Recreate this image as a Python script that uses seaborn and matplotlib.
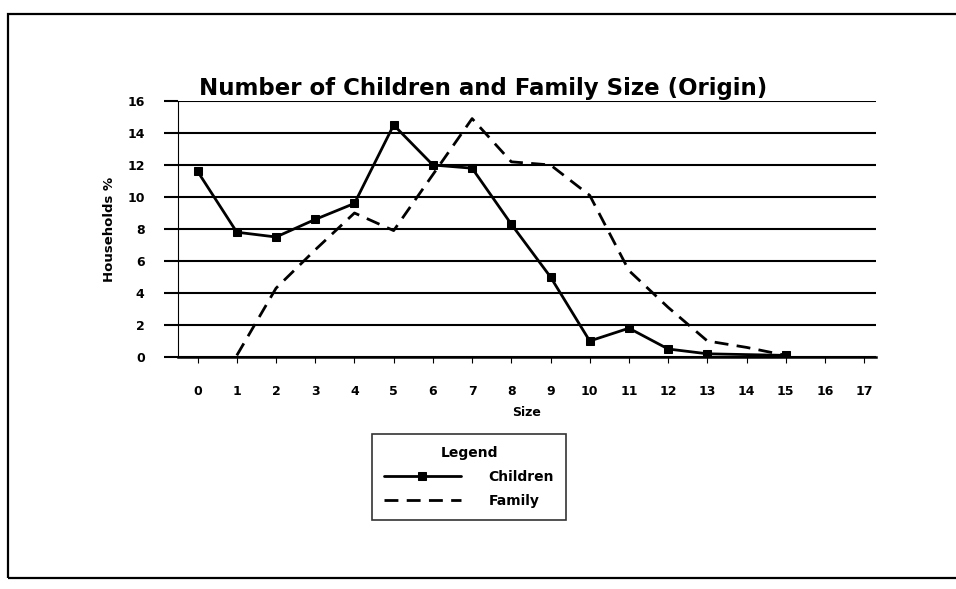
import matplotlib
matplotlib.use("Agg")
import matplotlib.pyplot as plt
import seaborn as sns
import pandas as pd
from matplotlib.patches import Rectangle

sns.set_theme(style="white")
plt.rcParams['font.family'] = ['DejaVu Sans']
plt.rcParams['text.color'] = 'black'
plt.rcParams['axes.labelcolor'] = 'black'
plt.rcParams['xtick.color'] = 'black'
plt.rcParams['ytick.color'] = 'black'

# Data
sizes = list(range(0, 18))
children_x = [0, 1, 2, 3, 4, 5, 6, 7, 8, 9, 10, 11, 12, 13, 15]
children_pct = [11.6, 7.8, 7.5, 8.6, 9.6, 14.5, 12.0, 11.8, 8.3, 5.0, 1.0, 1.8, 0.5, 0.2, 0.1]
family_x = [1, 2, 3, 4, 5, 6, 7, 8, 9, 10, 11, 12, 13, 14, 15]
family_pct = [0.1, 4.3, 6.7, 9.0, 7.9, 11.4, 14.9, 12.2, 12.0, 10.1, 5.4, 3.1, 1.0, 0.6, 0.1]
y_ticks = [0, 2, 4, 6, 8, 10, 12, 14, 16]

df_children = pd.DataFrame({"Size": children_x, "Households %": children_pct})
df_family = pd.DataFrame({"Size": family_x, "Households %": family_pct})

fig = plt.figure(figsize=(9.56, 5.89), dpi=100)
fig.patch.set_facecolor("white")

# outer frame
fig.patches.append(Rectangle((8 / 956, 1 - 578 / 589), 1.0, (578 - 14) / 589,
                             transform=fig.transFigure, fill=False,
                             edgecolor="black", linewidth=1.6, zorder=0))

ax = fig.add_axes([178 / 956, 1 - 357 / 589, (876 - 178) / 956, (357 - 101) / 589])

sns.lineplot(data=df_children, x="Size", y="Households %", ax=ax, color="black",
             linewidth=2.0, marker="s", markersize=6, markeredgecolor="black",
             label="Children", zorder=3)
sns.lineplot(data=df_family, x="Size", y="Households %", ax=ax, color="black",
             linewidth=2.0, linestyle=(0, (5, 3)), label="Family", zorder=3)

ax.set_xlim(-0.5, 17.3)
ax.set_ylim(0, 16)
ax.set_xticks(sizes)
ax.set_xticklabels([str(s) for s in sizes], fontsize=9, fontweight="bold")
ax.set_yticks(y_ticks)
ax.set_yticklabels([str(v) for v in y_ticks], fontsize=9, fontweight="bold")
ax.yaxis.grid(True, color="black", linewidth=1.5)
ax.xaxis.grid(False)
ax.set_axisbelow(True)
ax.tick_params(axis="y", length=10, width=1.5, color="black", pad=14, left=True)
ax.tick_params(axis="x", length=4, width=0.8, color="black", pad=16, bottom=True)

for s in ["top", "right"]:
    ax.spines[s].set_visible(False)
ax.spines["left"].set_color("black")
ax.spines["left"].set_linewidth(0.8)
ax.spines["left"].set_linestyle((0, (4, 1)))
ax.spines["bottom"].set_color("black")
ax.spines["bottom"].set_linewidth(1.8)

ax.set_xlabel("Size", fontsize=9, fontweight="bold", labelpad=6)
ax.set_ylabel("Households %", fontsize=9.5, fontweight="bold", labelpad=8)

fig.text(483 / 956, 1 - 88 / 589, "Number of Children and Family Size (Origin)",
         fontsize=16.5, fontweight="bold", ha="center", va="center", color="black")

leg = ax.legend(title="Legend", loc="center", bbox_to_anchor=(469 / 956, 1 - 477 / 589),
                bbox_transform=fig.transFigure, frameon=True, fancybox=False,
                edgecolor="black", fontsize=10, title_fontsize=10,
                handlelength=5.5, borderpad=0.9, labelspacing=0.7,
                handletextpad=2.0, borderaxespad=0)
leg.get_frame().set_linewidth(1.2)
leg.get_title().set_fontweight("bold")
for t in leg.get_texts():
    t.set_fontweight("bold")

fig.savefig("out.png", dpi=100, facecolor="white")
